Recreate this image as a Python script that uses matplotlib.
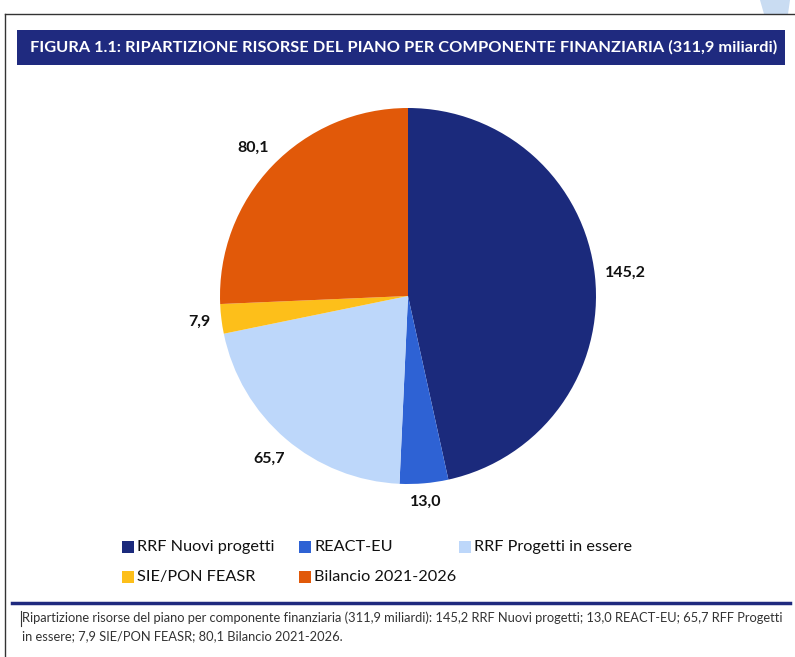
import matplotlib
matplotlib.use("Agg")
import numpy as np
import matplotlib.pyplot as plt
from matplotlib.patches import Rectangle, Polygon
from matplotlib.lines import Line2D

# dati (miliardi di euro)
componenti = ["RRF Nuovi progetti", "REACT-EU", "RRF Progetti in essere",
              "SIE/PON FEASR", "Bilancio 2021-2026"]
valori = [145.2, 13.0, 65.7, 7.9, 80.1]
etichette = ["145,2", "13,0", "65,7", "7,9", "80,1"]
colori = ["#1b2a7c", "#2e62d4", "#bdd7fa", "#fdbf1a", "#e15909"]

titolo = "FIGURA 1.1: RIPARTIZIONE RISORSE DEL PIANO PER COMPONENTE FINANZIARIA (311,9 miliardi)"
didascalia = ["Ripartizione risorse del piano per componente finanziaria (311,9 miliardi): 145,2 RRF Nuovi progetti; 13,0 REACT-EU; 65,7 RFF Progetti",
              "in essere; 7,9 SIE/PON FEASR; 80,1 Bilancio 2021-2026."]

font = ["Lato", "DejaVu Sans"]
W, H = 795, 657
fig = plt.figure(figsize=(W / 100, H / 100), dpi=100)
renderer = fig.canvas.get_renderer()

def fx(px):
    return px / W

def fy(py):
    return 1 - py / H

def adatta(t, larghezza):
    # porta il testo alla larghezza voluta (in pixel)
    w = t.get_window_extent(renderer).width
    t.set_fontsize(t.get_fontsize() * larghezza / w)

# cornice della pagina
fig.add_artist(Line2D([fx(5), fx(5)], [fy(14), 0], color="#333333", lw=1))
fig.add_artist(Line2D([fx(5), 1], [fy(14), fy(14)], color="#333333", lw=1))
fig.add_artist(Polygon([[fx(760), 1], [fx(790), 1], [fx(788), fy(14)], [fx(764), fy(14)]],
                       closed=True, color="#c9dcf2", lw=0))

# barra del titolo
fig.add_artist(Rectangle((fx(17), fy(65)), fx(785) - fx(17), fy(30) - fy(65),
                         facecolor="#1f2a7f", edgecolor="none"))
t = fig.text(fx(404), fy(47.5), titolo, color="white", fontsize=11, fontweight="bold",
             ha="center", va="center", family=font)
adatta(t, 742)

# torta
cx, cy, r = 408, 296, 188
ax = fig.add_axes([fx(cx - r), fy(cy + r), 2 * r / W, 2 * r / H])
spicchi, testi = ax.pie(valori, colors=colori, startangle=90, counterclock=False,
                        labels=etichette, labeldistance=1.15,
                        textprops=dict(fontsize=11.5, fontweight="bold", color="#111111",
                                       family=font),
                        wedgeprops=dict(linewidth=0))
ax.set_xlim(-1, 1)
ax.set_ylim(-1, 1)
ax.set_aspect("auto")
ax.axis("off")

# etichette fuori dal bordo, centrate
for sp, tx in zip(spicchi, testi):
    a = np.deg2rad((sp.theta1 + sp.theta2) / 2)
    bb = tx.get_window_extent(renderer)
    est = bb.width / 2 * abs(np.cos(a)) + bb.height / 2 * abs(np.sin(a))
    d = (r + 10 + est) / r
    tx.set_position((d * np.cos(a), d * np.sin(a)))
    tx.set_ha("center")
    tx.set_va("center")

# legenda
pos = [(128, 547), (305, 547), (465, 547), (128, 577), (305, 577)]
dim = None
for (px, py), nome, col in zip(pos, componenti, colori):
    fig.add_artist(Rectangle((fx(px - 6), fy(py + 6)), 12 / W, 12 / H,
                             facecolor=col, edgecolor="none"))
    t = fig.text(fx(px + 9), fy(py), nome, fontsize=11.5, ha="left", va="center",
                 color="#111111", family=font)
    if dim is None:
        adatta(t, 138)
        dim = t.get_fontsize()
    t.set_fontsize(dim)

# linea e didascalia
fig.add_artist(Line2D([fx(12), fx(790)], [fy(603), fy(603)], color="#1f2a7f", lw=2.5))
fig.add_artist(Line2D([fx(21), fx(21)], [fy(611), fy(626)], color="#333333", lw=0.8))
dim = None
for i, riga in enumerate(didascalia):
    t = fig.text(fx(22), fy(618 + 18 * i), riga, fontsize=8.5, ha="left", va="center",
                 color="#333333", family=font)
    if dim is None:
        adatta(t, 766)
        dim = t.get_fontsize()
    t.set_fontsize(dim)

fig.savefig("out.png", dpi=100)
